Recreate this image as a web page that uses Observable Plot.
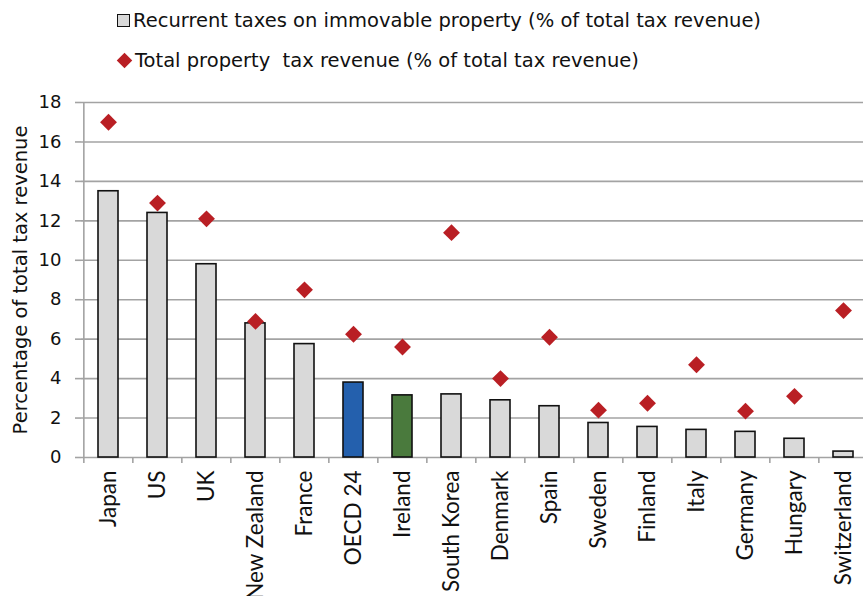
<!DOCTYPE html>
<html>
<head>
<meta charset="utf-8">
<script src="https://cdn.jsdelivr.net/npm/d3@7"></script>
<script src="https://cdn.jsdelivr.net/npm/@observablehq/plot@0.6"></script>
<style>
  html, body { margin: 0; padding: 0; background: #fff; overflow: hidden; }
  #legend { position: relative; height: 80px; font-family: "DejaVu Sans", sans-serif; font-size: 19.5px; color: #111; }
  .row { position: absolute; left: 117px; display: flex; align-items: center; white-space: pre; }
  .sq { width: 11px; height: 11px; background: #d9d9d9; border: 1.5px solid #111; margin-right: 3px; }
  .dm { width: 11px; height: 11px; background: #b91f24; transform: rotate(45deg); margin: 0 5px 0 2px; }
</style>
</head>
<body>
<div id="legend">
  <div class="row" style="top:9px"><span class="sq"></span><span id="l1"></span></div>
  <div class="row" style="top:49px"><span class="dm"></span><span id="l2"></span></div>
</div>
<div id="chart"></div>
<script>
const countries = ["Japan","US","UK","New Zealand","France","OECD 24","Ireland","South Korea","Denmark","Spain","Sweden","Finland","Italy","Germany","Hungary","Switzerland"];
const recurrent = [13.5,12.4,9.8,6.8,5.75,3.8,3.15,3.2,2.9,2.6,1.75,1.55,1.4,1.3,0.95,0.3];
const totalProperty = [17.0,12.9,12.1,6.9,8.5,6.25,5.6,11.4,4.0,6.1,2.4,2.75,4.7,2.35,3.1,7.45];
const barColors = ["#d9d9d9","#d9d9d9","#d9d9d9","#d9d9d9","#d9d9d9","#2460ad","#4a7a3d","#d9d9d9","#d9d9d9","#d9d9d9","#d9d9d9","#d9d9d9","#d9d9d9","#d9d9d9","#d9d9d9","#d9d9d9"];
const yTicks = [0,2,4,6,8,10,12,14,16,18];
const legendLabels = ["Recurrent taxes on immovable property (% of total tax revenue)", "Total property  tax revenue (% of total tax revenue)"];
const yLabel = "Percentage of total tax revenue";

document.getElementById("l1").textContent = legendLabels[0];
document.getElementById("l2").textContent = legendLabels[1];

const data = countries.map((c, i) => ({country: c, rec: recurrent[i], tot: totalProperty[i], color: barColors[i]}));

const width = 863, height = 516;
const marginLeft = 81, marginRight = -7, marginTop = 22, marginBottom = 139;
const step = (width - marginLeft - marginRight) / countries.length;
const gridColor = "#a3a3a3";

const chart = Plot.plot({
  width, height, marginLeft, marginRight, marginTop, marginBottom,
  style: {fontFamily: "DejaVu Sans, sans-serif", fontSize: "18px", color: "#111", background: "#fff", overflow: "visible"},
  x: {type: "band", domain: countries, paddingInner: 0.6, paddingOuter: 0.3, align: 0.5},
  y: {domain: [0, 18]},
  marks: [
    Plot.ruleY(yTicks, {y: d => d, stroke: gridColor, strokeWidth: 1.6}),
    Plot.ruleX([0], {x: () => countries[0], y1: 0, y2: 18, dx: -step / 2, stroke: gridColor, strokeWidth: 1.6}),
    Plot.ruleX(countries, {x: d => d, y1: 0, y2: 0, dx: -step / 2, insetTop: 0, insetBottom: -6, stroke: gridColor, strokeWidth: 1.6}),
    Plot.barY(data, {x: "country", y: "rec", fill: "color", stroke: "#111", strokeWidth: 1.6}),
    Plot.dot(data, {x: "country", y: "tot", symbol: "diamond2", r: 7.6, fill: "#b91f24", stroke: "none"}),
    Plot.axisY({ticks: yTicks, tickSize: 6, tickPadding: 14, stroke: gridColor, strokeWidth: 1.6, tickFormat: d => d, label: null, fontSize: 18}),
    Plot.axisX({tickSize: 0, tickRotate: -90, tickPadding: 13, label: null, fontFamily: "Lato, Open Sans, sans-serif", fontSize: 22.5}),
    Plot.text([yLabel], {frameAnchor: "left", textAnchor: "middle", dx: -61, y: 9, rotate: -90, fontSize: 19.5})
  ]
});
document.getElementById("chart").appendChild(chart);
</script>
</body>
</html>
